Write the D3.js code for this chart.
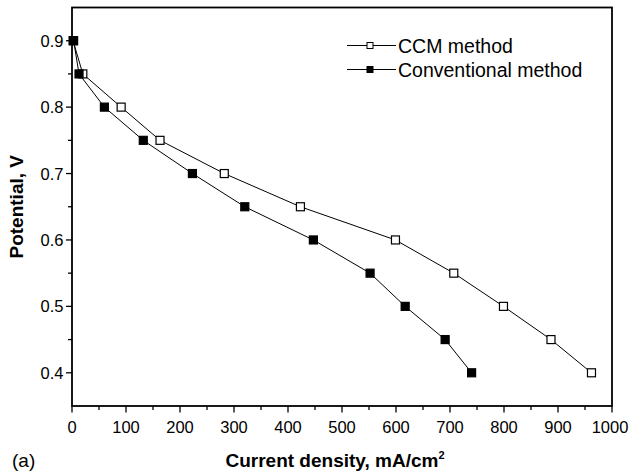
<!DOCTYPE html>
<html>
<head>
<meta charset="utf-8">
<script src="https://cdn.jsdelivr.net/npm/d3@7"></script>
<style>
  body { margin: 0; background: #fff; }
  text { font-family: "Liberation Sans", Arial, sans-serif; fill: #000; }
</style>
</head>
<body>
<div id="chart"></div>
<script>
// Polarization curves
const potential = [0.9, 0.85, 0.8, 0.75, 0.7, 0.65, 0.6, 0.55, 0.5, 0.45, 0.4];
const ccmCurrent = [2, 20, 91, 163, 282, 423, 599, 707, 799, 887, 962];
const convCurrent = [3, 13, 60, 132, 223, 320, 447, 552, 617, 691, 740];
const seriesNames = ["CCM method", "Conventional method"];
const xTicks = [0, 100, 200, 300, 400, 500, 600, 700, 800, 900, 1000];
const yTicks = [0.4, 0.5, 0.6, 0.7, 0.8, 0.9];

const W = 629, H = 476;
const margin = {top: 7.5, right: 17, bottom: 70, left: 72};
const width = W - margin.left - margin.right;
const height = H - margin.top - margin.bottom;

const svg = d3.select("#chart").append("svg")
    .attr("width", W).attr("height", H);

const x = d3.scaleLinear().domain([0, 1000]).range([0, width]);
const y = d3.scaleLinear().domain([0.35, 0.95]).range([height, 0]);

const g = svg.append("g")
    .attr("transform", `translate(${margin.left},${margin.top})`);

// frame
g.append("rect")
    .attr("width", width).attr("height", height)
    .attr("fill", "none").attr("stroke", "#000").attr("stroke-width", 1.8);

// x axis: major ticks + minor ticks at 50
const xAxis = g.append("g").attr("transform", `translate(0,${height})`);
xAxis.selectAll("line.minor")
    .data(d3.range(50, 1000, 100))
    .enter().append("line")
    .attr("x1", d => x(d)).attr("x2", d => x(d))
    .attr("y1", 0).attr("y2", 4)
    .attr("stroke", "#000").attr("stroke-width", 1.3);
xAxis.selectAll("line.major")
    .data(xTicks)
    .enter().append("line")
    .attr("x1", d => x(d)).attr("x2", d => x(d))
    .attr("y1", 0).attr("y2", 6.5)
    .attr("stroke", "#000").attr("stroke-width", 1.3);
// last label would run past the page edge, so it is kept inside
xAxis.selectAll("text")
    .data(xTicks)
    .enter().append("text")
    .attr("x", d => Math.min(x(d), W - margin.left - 19))
    .attr("y", 26.5)
    .attr("text-anchor", "middle")
    .style("font-size", "16.5px")
    .text(d => d);

// y axis
const yAxis = g.append("g");
yAxis.selectAll("line.minor")
    .data([0.45, 0.55, 0.65, 0.75, 0.85])
    .enter().append("line")
    .attr("x1", -4).attr("x2", 0)
    .attr("y1", d => y(d)).attr("y2", d => y(d))
    .attr("stroke", "#000").attr("stroke-width", 1.3);
yAxis.selectAll("line.major")
    .data(yTicks)
    .enter().append("line")
    .attr("x1", -6).attr("x2", 0)
    .attr("y1", d => y(d)).attr("y2", d => y(d))
    .attr("stroke", "#000").attr("stroke-width", 1.3);
yAxis.selectAll("text")
    .data(yTicks)
    .enter().append("text")
    .attr("x", -8.5).attr("y", d => y(d) + 6)
    .attr("text-anchor", "end")
    .style("font-size", "16.5px")
    .text(d => d.toFixed(1));

// axis titles
const xTitle = svg.append("text")
    .attr("x", margin.left + width / 2 - 7).attr("y", 467)
    .attr("text-anchor", "middle")
    .style("font-size", "19px").style("font-weight", "bold");
xTitle.append("tspan").text("Current density, mA/cm");
xTitle.append("tspan").attr("dy", -8).style("font-size", "11px").text("2");

svg.append("text")
    .attr("transform", `translate(23,${margin.top + height / 2}) rotate(-90)`)
    .attr("text-anchor", "middle")
    .style("font-size", "19px").style("font-weight", "bold")
    .text("Potential, V");

svg.append("text")
    .attr("x", 12).attr("y", 467)
    .style("font-size", "19px")
    .text("(a)");

// series
const series = [
    {name: seriesNames[0], xs: ccmCurrent, fill: "#fff"},
    {name: seriesNames[1], xs: convCurrent, fill: "#000"}
];
const line = d3.line().x(d => x(d[0])).y(d => y(d[1]));
const ms = 8;

series.forEach(s => {
    const pts = s.xs.map((v, i) => [v, potential[i]]);
    g.append("path")
        .datum(pts)
        .attr("d", line)
        .attr("fill", "none").attr("stroke", "#000").attr("stroke-width", 1);
    g.selectAll(null)
        .data(pts)
        .enter().append("rect")
        .attr("x", d => x(d[0]) - ms / 2).attr("y", d => y(d[1]) - ms / 2)
        .attr("width", ms).attr("height", ms)
        .attr("fill", s.fill).attr("stroke", "#000").attr("stroke-width", 1.2);
});

// legend
const legend = svg.append("g");
series.forEach((s, i) => {
    const cy = 45.5 + i * 24;
    legend.append("line")
        .attr("x1", 347).attr("x2", 396).attr("y1", cy).attr("y2", cy)
        .attr("stroke", "#000").attr("stroke-width", 1);
    legend.append("rect")
        .attr("x", 367).attr("y", cy - 3).attr("width", 6).attr("height", 6)
        .attr("fill", s.fill).attr("stroke", "#000").attr("stroke-width", 1);
    legend.append("text")
        .attr("x", 398).attr("y", cy + 7)
        .style("font-size", "19.5px")
        .text(s.name);
});
</script>
</body>
</html>
